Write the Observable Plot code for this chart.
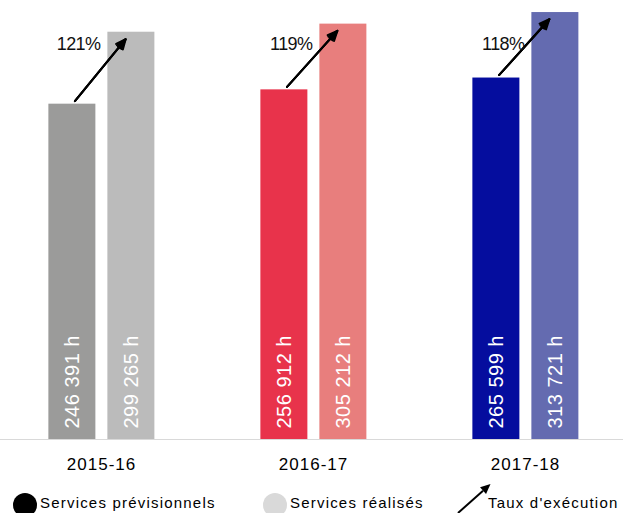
<!DOCTYPE html>
<html lang="fr">
<head>
<meta charset="utf-8">
<script src="https://cdn.jsdelivr.net/npm/d3@7"></script>
<script src="https://cdn.jsdelivr.net/npm/@observablehq/plot@0.6"></script>
<style>
  html, body { margin: 0; padding: 0; background: #fff; overflow: hidden; }
  body { font-family: "Liberation Sans", Arial, sans-serif; }
  #chart svg { display: block; }
</style>
</head>
<body>
<div id="chart"></div>
<div id="legend"></div>
<script>
// Heures de service par exercice
const years = ["2015-16", "2016-17", "2017-18"];
const previsionnels = [246391, 256912, 265599];
const realises = [299265, 305212, 313721];

const seriesKeys = ["prev", "real"];
const palette = {
  "2015-16": ["#9b9b9a", "#bbbbbb"],
  "2016-17": ["#e8334b", "#e87e7d"],
  "2017-18": ["#050d9e", "#646bb0"]
};
const legendItems = [
  {label: "Services prévisionnels", swatch: "#000000"},
  {label: "Services réalisés", swatch: "#d9d9d9"},
  {label: "Taux d'exécution", swatch: "arrow"}
];

const groups = years.map((year, i) => ({year, prev: previsionnels[i], real: realises[i]}));
const rows = groups.flatMap(g =>
  seriesKeys.map((s, j) => ({year: g.year, series: s, value: g[s], color: palette[g.year][j]}))
);

const fr = d3.formatLocale({decimal: ",", thousands: " ", grouping: [3], currency: ["", " €"]});
const fmtHours = v => fr.format(",d")(v) + " h";
const fmtRate = g => Math.round(g.real / g.prev * 100) + "%";

const font = "'Liberation Sans', Arial, sans-serif";

const chart = Plot.plot({
  width: 623,
  height: 482,
  marginTop: 3.5,
  marginBottom: 43,
  marginLeft: -6.375,
  marginRight: -8.875,
  style: {fontFamily: font, background: "#fff", color: "#000"},
  fx: {domain: years, paddingInner: 0, paddingOuter: 0, axis: null, label: null},
  x: {domain: seriesKeys, paddingInner: 0.2, paddingOuter: 0.873, axis: null, label: null},
  y: {domain: [0, 320000], axis: null, label: null},
  marks: [
    Plot.ruleY([0], {stroke: "#d9d9d9", strokeWidth: 1}),
    Plot.barY(rows, {fx: "year", x: "series", y: "value", fill: "color"}),
    Plot.text(rows, {
      fx: "year", x: "series", frameAnchor: "bottom", dy: -11,
      rotate: -90, textAnchor: "start", lineAnchor: "middle",
      text: d => fmtHours(d.value), fill: "#ffffff", fontSize: 20
    }),
    // stacked wings give the arrowhead a solid look
    ...[48, 32, 16].map(angle => Plot.arrow(groups, {
      fx: "year", x1: () => "prev", x2: () => "real", y1: "prev", y2: "real",
      insetStart: 4, insetEnd: 9, headAngle: angle, headLength: 8,
      stroke: "#000", strokeWidth: 2
    })),
    Plot.text(groups, {
      fx: "year", x: () => "prev", frameAnchor: "top", dy: 40, dx: 28,
      textAnchor: "end", lineAnchor: "middle",
      text: fmtRate, fontSize: 18, fill: "#111"
    }),
    Plot.text(years, {
      fx: d => d, text: d => d, frameAnchor: "bottom", dy: 25,
      lineAnchor: "middle", fontSize: 17, fill: "#000"
    })
  ]
});

// letter spacing per kind of label
d3.select(chart).selectAll("text").each(function () {
  const t = this.textContent;
  let ls = null;
  if (years.includes(t)) ls = "1px";
  else if (t.endsWith("%")) ls = "-0.6px";
  else if (t.endsWith(" h")) ls = "0.5px";
  if (ls) this.style.letterSpacing = ls;
});
document.getElementById("chart").append(chart);

// Légende
const legend = d3.create("svg")
  .attr("width", 623).attr("height", 31)
  .style("display", "block")
  .style("font-family", font)
  .style("font-size", "15px")
  .style("letter-spacing", "1.2px");

const slots = [
  {cx: 25, tx: 40},
  {cx: 275, tx: 290},
  {cx: 474, tx: 488}
];
legendItems.forEach((item, i) => {
  const s = slots[i];
  if (item.swatch === "arrow") {
    const x0 = 458, y0 = 31, x1 = 490.5, y1 = 2;
    const len = Math.hypot(x1 - x0, y1 - y0);
    const ux = (x1 - x0) / len, uy = (y1 - y0) / len;
    const bx = x1 - 10 * ux, by = y1 - 10 * uy;
    legend.append("line")
      .attr("x1", x0).attr("y1", y0).attr("x2", bx).attr("y2", by)
      .attr("stroke", "#000").attr("stroke-width", 2);
    legend.append("polygon")
      .attr("points", [
        [x1, y1],
        [bx - 4.5 * uy, by + 4.5 * ux],
        [bx + 4.5 * uy, by - 4.5 * ux]
      ].map(p => p.join(",")).join(" "))
      .attr("fill", "#000");
  } else {
    legend.append("circle")
      .attr("cx", s.cx).attr("cy", 23).attr("r", 12)
      .attr("fill", item.swatch);
  }
  legend.append("text")
    .attr("x", s.tx).attr("y", 26)
    .attr("fill", "#000")
    .text(item.label);
});
document.getElementById("legend").append(legend.node());
</script>
</body>
</html>
